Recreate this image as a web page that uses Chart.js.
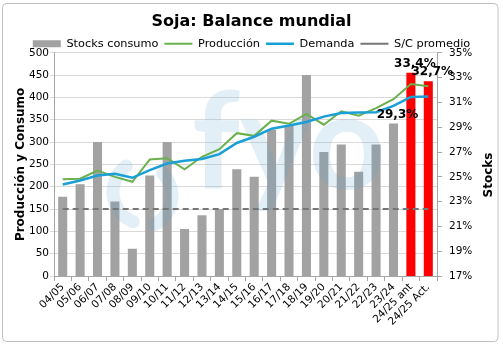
<!DOCTYPE html>
<html><head><meta charset="utf-8">
<script src="https://cdn.jsdelivr.net/npm/chart.js@4.4.1/dist/chart.umd.min.js"></script>
<style>html,body{margin:0;padding:0;background:#fff}#w{width:503px;height:348px;position:relative}</style>
</head><body><div id="w"><canvas id="c" width="503" height="348" style="width:503px;height:348px"></canvas></div>
<script>
const categories = ['04/05','05/06','06/07','07/08','08/09','09/10','10/11','11/12','12/13','13/14','14/15','15/16','16/17','17/18','18/19','19/20','20/21','21/22','22/23','23/24','24/25 ant','24/25 Act.'];
const stocksConsumo = [23.4,24.4,27.8,23.0,19.2,25.1,27.8,20.8,21.9,22.4,25.6,25.0,28.8,29.1,33.2,27.0,27.6,25.4,27.6,29.3,33.4,32.7];
const produccion = [217,218,236,222,211,261,264,239,267,284,320,314,348,341,363,339,369,359,376,396,430,425];
const demanda = [205,214,225,229,220,237,252,258,262,273,298,312,330,337,345,357,365,366,367,381,401,402];
const scPromedio = [22.4,22.4,22.4,22.4,22.4,22.4,22.4,22.4,22.4,22.4,22.4,22.4,22.4,22.4,22.4,22.4,22.4,22.4,22.4,22.4,22.4,22.4];
const highlighted = ['24/25 ant','24/25 Act.'];
const labeledCategories = ['23/24','24/25 ant','24/25 Act.'];
const leftTicks = {min:0, max:500, step:50};
const rightTicks = {min:17, max:35, step:2};

const FONT = "'DejaVu Sans', Verdana, sans-serif";
const GRAY = '#a2a2a2', RED = '#ff0000';

const framePlugin = {
  id:'frame',
  beforeLayout(chart){
    const L = chart.legend;
    if (L && !L._trimmed){
      const orig = L.fit;
      L.fit = function(){ orig.call(this); this.height -= 6.7; };
      L._trimmed = true;
    }
  },
  beforeDraw(chart){
    const ctx = chart.ctx;
    ctx.save();
    ctx.fillStyle='#fff'; ctx.fillRect(0,0,chart.width,chart.height);
    ctx.strokeStyle='#c0c0c0'; ctx.lineWidth=1;
    ctx.beginPath();
    if (ctx.roundRect) ctx.roundRect(2.5,3.5,495.5,338,4); else ctx.rect(2.5,3.5,495.5,338);
    ctx.stroke();
    ctx.restore();
  },
  afterDatasetDraw(chart,args){
    if (args.index!==0) return;
    const ctx = chart.ctx, a = chart.chartArea;
    ctx.save();
    ctx.beginPath(); ctx.rect(a.left,a.top,a.right-a.left,a.bottom-a.top); ctx.clip();
    ctx.fillStyle='rgba(100,165,205,0.18)';
    ctx.strokeStyle='rgba(100,165,205,0.18)';
    ctx.font="bold 134px Lato, sans-serif";
    ctx.textBaseline='alphabetic';
    ctx.fillText('fyo',192,189);
    ctx.lineWidth=13; ctx.lineCap='round';
    ctx.beginPath(); ctx.arc(145,192,32,Math.PI*0.62,Math.PI*1.3); ctx.stroke();
    ctx.beginPath(); ctx.arc(140,196,32,-Math.PI*0.25,Math.PI*0.35); ctx.stroke();
    ctx.restore();
  },
  afterDraw(chart){
    const ctx = chart.ctx;
    ctx.save();
    ctx.font="bold 12px "+FONT; ctx.fillStyle='#000';
    ctx.translate(489,175); ctx.rotate(-Math.PI/2);
    ctx.textAlign='center'; ctx.textBaseline='middle';
    ctx.fillText('Stocks',0,0);
    ctx.restore();
    const meta = chart.getDatasetMeta(0);
    ctx.save();
    ctx.font="bold 12px "+FONT; ctx.fillStyle='#000';
    ctx.textAlign='center'; ctx.textBaseline='bottom';
    labeledCategories.forEach(c=>{
      const i = categories.indexOf(c);
      const el = meta.data[i];
      ctx.fillText(stocksConsumo[i].toFixed(1).replace('.',',')+'%', el.x+4, el.y-3);
    });
    ctx.restore();
  }
};

new Chart(document.getElementById('c'), {
  data:{
    labels: categories,
    datasets:[
      {type:'bar', label:'Stocks consumo', data:stocksConsumo, yAxisID:'y1', order:10,
       backgroundColor: categories.map(c=>highlighted.includes(c)?RED:GRAY),
       barPercentage:0.52, categoryPercentage:1, pointStyle:'rect'},
      {type:'line', label:'Producción', data:produccion, yAxisID:'y', order:2,
       borderColor:'#6ab04c', backgroundColor:'#6ab04c', borderWidth:2, pointRadius:0, tension:0, pointStyle:'line'},
      {type:'line', label:'Demanda', data:demanda, yAxisID:'y', order:1,
       borderColor:'#1a9fd6', backgroundColor:'#1a9fd6', borderWidth:2.5, pointRadius:0, tension:0, pointStyle:'line'},
      {type:'line', label:'S/C promedio', data:scPromedio, yAxisID:'y1', order:3,
       borderColor:'#767676', backgroundColor:'#767676', borderWidth:2, borderDash:[6,4], pointRadius:0, pointStyle:'line'}
    ]
  },
  options:{
    responsive:false, animation:false, devicePixelRatio:1,
    layout:{padding:{left:0,right:0,top:6,bottom:0}},
    plugins:{
      tooltip:{enabled:false},
      title:{display:true, text:'Soja: Balance mundial', color:'#000',
        font:{family:FONT, size:16, weight:'bold'}, padding:{top:6,bottom:1}},
      legend:{display:true, position:'top',
        labels:{usePointStyle:true, pointStyleWidth:28, boxHeight:7, padding:6,
          color:'#000', font:{family:FONT, size:11.3},
          sort:(a,b)=>a.datasetIndex-b.datasetIndex}}
    },
    scales:{
      x:{type:'category', offset:true,
        grid:{display:true, drawOnChartArea:false, offset:true, tickLength:5, color:'#a6a6a6'},
        border:{color:'#a6a6a6'},
        ticks:{autoSkip:false, minRotation:45, maxRotation:45, color:'#000', padding:0, font:{family:FONT,size:10.5}},
        afterFit(s){ s.height = 72; }
      },
      y:{position:'left', min:leftTicks.min, max:leftTicks.max,
        ticks:{stepSize:leftTicks.step, color:'#000', padding:1, font:{family:FONT,size:10.5}},
        grid:{color:'#d9d9d9', tickLength:4},
        border:{color:'#a6a6a6'},
        title:{display:true, text:'Producción y Consumo', color:'#000', font:{family:FONT,size:12,weight:'bold'}, padding:{top:14,bottom:0}},
        afterFit(s){ s.width = 54; }
      },
      y1:{position:'right', min:rightTicks.min, max:rightTicks.max,
        ticks:{stepSize:rightTicks.step, color:'#000', padding:7, font:{family:FONT,size:10.5}, callback:v=>v+'%'},
        grid:{drawOnChartArea:false, color:'#a6a6a6', tickLength:5},
        border:{color:'#a6a6a6'},
        afterFit(s){ s.width = 66; }
      }
    }
  },
  plugins:[framePlugin]
});
</script></body></html>
